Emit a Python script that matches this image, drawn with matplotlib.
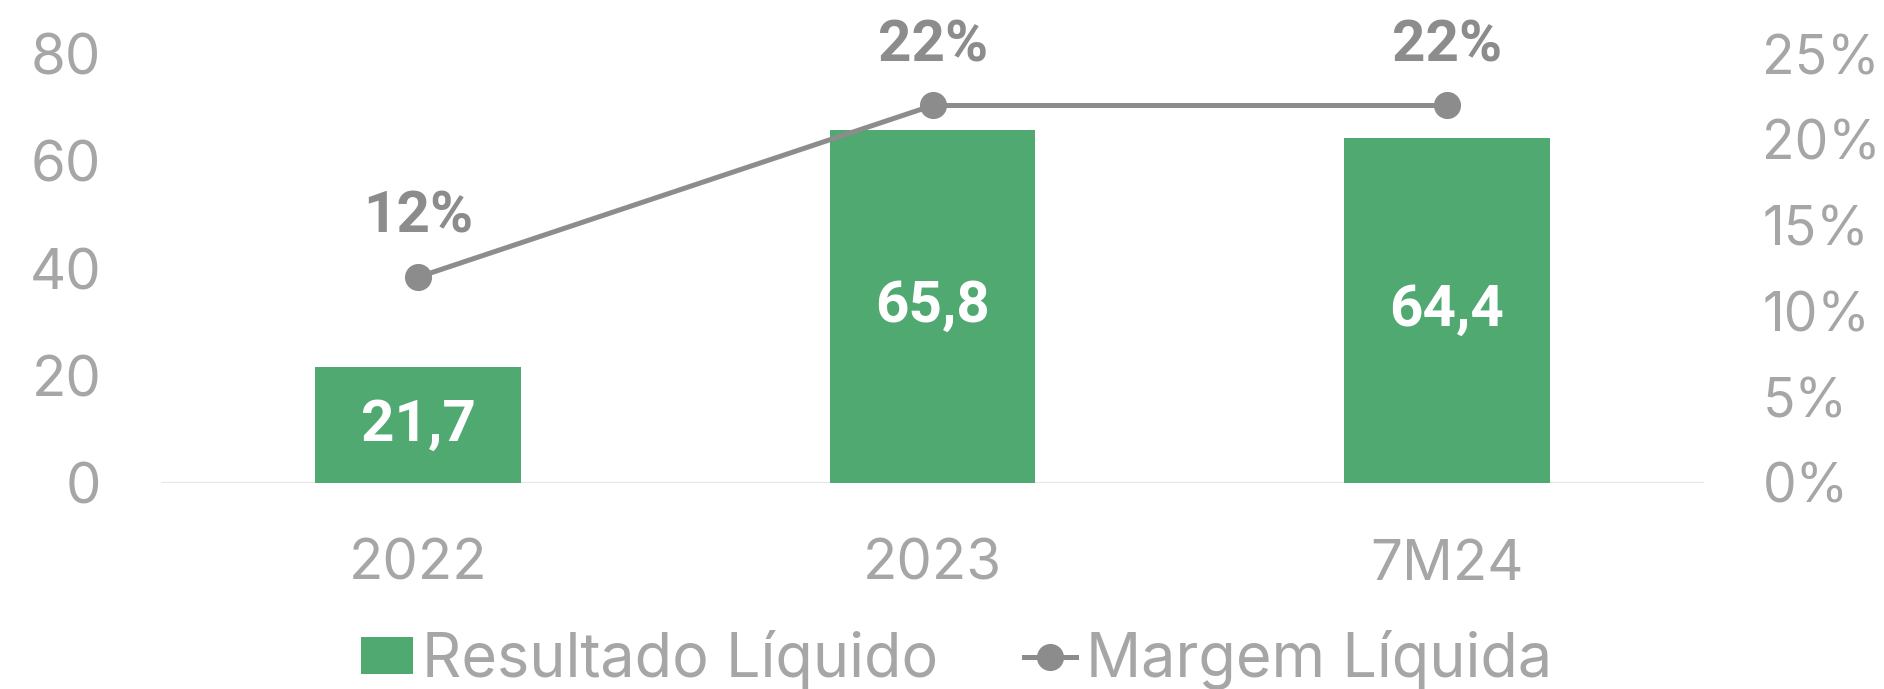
import matplotlib
matplotlib.use("Agg")
import matplotlib.pyplot as plt
from matplotlib.lines import Line2D
from matplotlib.patches import Patch

categories = ["2022", "2023", "7M24"]
resultado = [21.7, 65.8, 64.4]
resultado_labels = ["21,7", "65,8", "64,4"]
margem = [12, 22, 22]
margem_labels = ["12%", "22%", "22%"]
left_ticks = [0, 20, 40, 60, 80]
right_ticks = [0, 5, 10, 15, 20, 25]

GREEN = "#50A971"
LINE_GRAY = "#8C8C8C"
TICK_GRAY = "#A6A6A6"
BOLD_FONT = ["Roboto", "DejaVu Sans"]

plt.rcParams["font.family"] = ["Inter", "DejaVu Sans"]

fig = plt.figure(figsize=(18.84, 6.89), dpi=100)
ax = fig.add_axes([0.0855, 0.299, 0.819, 0.6226])
ax2 = ax.twinx()

x = list(range(len(categories)))
bars = ax.bar(x, resultado, width=0.4, color=GREEN, zorder=2)
for rect, lab in zip(bars, resultado_labels):
    ax.text(rect.get_x() + rect.get_width() / 2, rect.get_height() / 2, lab,
            ha="center", va="center", color="white", fontsize=42,
            fontweight="bold", family=BOLD_FONT)

ax.set_xlim(-0.5, len(categories) - 0.5)
ax.set_ylim(0, 80)
ax.set_yticks(left_ticks)
ax.set_yticklabels([str(t) for t in left_ticks])
ax.set_xticks(x)
ax.set_xticklabels(categories)
ax.tick_params(axis="y", length=0, pad=43, labelsize=40.5, labelcolor=TICK_GRAY)
ax.tick_params(axis="x", length=0, pad=40, labelsize=40.5, labelcolor=TICK_GRAY)

ax2.plot(x, margem, color=LINE_GRAY, lw=3.6, marker="o", markersize=18.5,
         zorder=3)
for xi, v, lab in zip(x, margem, margem_labels):
    ax2.annotate(lab, (xi, v), xytext=(0, 43), textcoords="offset points",
                 ha="center", va="center", color=LINE_GRAY, fontsize=42,
                 fontweight="bold", family=BOLD_FONT)
ax2.set_ylim(0, 25)
ax2.set_yticks(right_ticks)
ax2.set_yticklabels([f"{t}%" for t in right_ticks])
ax2.tick_params(axis="y", length=0, pad=42, labelsize=38.5, labelcolor=TICK_GRAY)

for a in (ax, ax2):
    for side in ("top", "left", "right", "bottom"):
        a.spines[side].set_visible(False)
ax.axhline(0, color="#E6E6E6", lw=1.5, zorder=1)
ax.set_zorder(ax2.get_zorder() - 1)
ax.patch.set_visible(False)

handles = [
    Patch(facecolor=GREEN, edgecolor="none"),
    Line2D([], [], color=LINE_GRAY, lw=3.6, marker="o", markersize=18.5),
]
leg = fig.legend(handles, ["Resultado Líquido", "Margem Líquida"],
                 loc="center", bbox_to_anchor=(0.5076, 0.042), ncol=2,
                 frameon=False, fontsize=44, handlelength=0.85,
                 handleheight=0.56, handletextpad=0.16, columnspacing=1.4,
                 borderpad=0)
for t in leg.get_texts():
    t.set_color(TICK_GRAY)

fig.savefig("out.png", dpi=100)
